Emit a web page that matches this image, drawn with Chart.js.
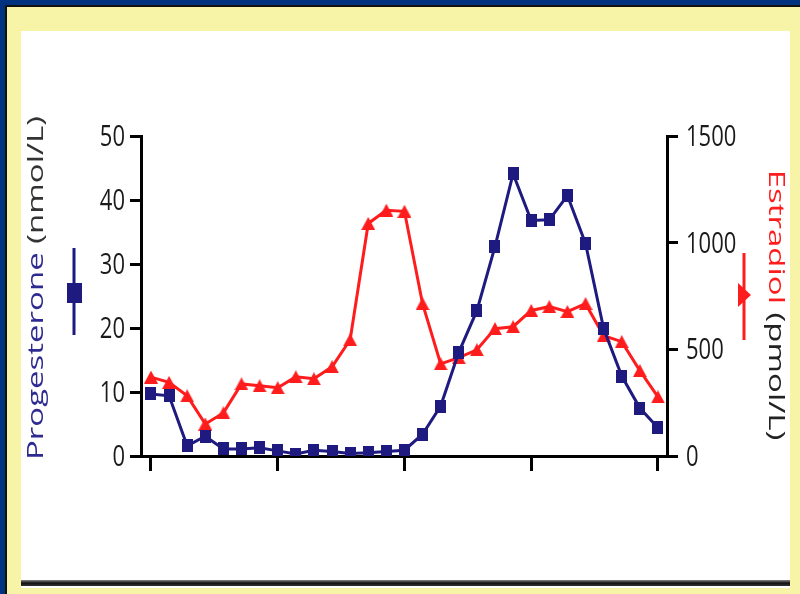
<!DOCTYPE html>
<html>
<head>
<meta charset="utf-8">
<script src="https://cdn.jsdelivr.net/npm/chart.js@4.4.1/dist/chart.umd.min.js"></script>
<style>
    body { margin: 0; width: 800px; height: 594px; overflow: hidden; background: #00327f; position: relative; }
    #moldura { position: absolute; left: 5px; top: 5px; right: 0; bottom: 0; border-left: 2px solid #111; border-top: 2px solid #111; background: #f7f4a8; }
    #painel { position: absolute; left: 21px; top: 31px; width: 769px; height: 557px; background: #fff; }
    #regua { position: absolute; left: 21px; top: 580px; width: 769px; height: 6px; background: linear-gradient(#888, #111, #333); }
    canvas { position: absolute; left: 0; top: 0; }
</style>
</head>
<body>
<div id="moldura"></div>
<div id="painel"></div>
<div id="regua"></div>
<canvas id="myChartCanvas1" width="800" height="594"></canvas>
<script>
// dias do ciclo
const dias = [0, 1, 2, 3, 4, 5, 6, 7, 8, 9, 10, 11, 12, 13, 14, 15, 16, 17, 18, 19, 20, 21, 22, 23, 24, 25, 26, 27, 28];
// progesterona (nmol/L)
const progesterona = [9.7, 9.4, 1.6, 3.1, 1.1, 1.1, 1.3, 0.8, 0.3, 0.9, 0.7, 0.4, 0.5, 0.7, 0.9, 3.4, 7.8, 16.2, 22.7, 32.7, 44.1, 36.8, 36.9, 40.7, 33.2, 19.9, 12.5, 7.5, 4.4];
// estradiol (pmol/L)
const estradiol = [370, 345, 282, 150, 202, 338, 329, 320, 371, 362, 418, 545, 1090, 1152, 1147, 714, 432, 461, 498, 597, 606, 682, 700, 677, 714, 564, 536, 400, 277];
const ticksX = [0, 7, 14, 21, 28];

const AZUL = '#1f1a80';
const VERMELHO = '#ff1c1c';

// marcadores um pouco esticados na vertical, como na figura
function marcadorQuadrado(cor) {
    const c = document.createElement('canvas');
    c.width = 11; c.height = 13;
    const g = c.getContext('2d');
    g.fillStyle = cor;
    g.fillRect(0, 0, 11, 13);
    return c;
}

function marcadorTriangulo(cor) {
    const c = document.createElement('canvas');
    c.width = 14; c.height = 13;
    const g = c.getContext('2d');
    g.fillStyle = cor;
    g.beginPath();
    g.moveTo(7, 0);
    g.lineTo(14, 13);
    g.lineTo(0, 13);
    g.closePath();
    g.fill();
    return c;
}

// texto esticado, a figura original foi escalada de forma desigual
function textoEsticado(ctx, partes, x, y, rot, esticar) {
    ctx.save();
    ctx.translate(x, y);
    ctx.rotate(rot);
    ctx.scale(esticar, 1);
    ctx.font = '22px "Open Sans"';
    ctx.textBaseline = 'alphabetic';
    ctx.textAlign = 'left';
    let total = 0;
    partes.forEach(p => total += ctx.measureText(p.texto).width);
    let px = -total / 2;
    partes.forEach(p => {
        ctx.fillStyle = p.cor;
        ctx.fillText(p.texto, px, 0);
        px += ctx.measureText(p.texto).width;
    });
    ctx.restore();
}

const rotulosEixos = {
    id: 'rotulosEixos',
    afterDraw(chart) {
        const ctx = chart.ctx;
        const esq = chart.scales.y;
        const dir = chart.scales.y1;

        ctx.save();
        ctx.font = '22px "Open Sans"';
        ctx.fillStyle = '#1a1a1a';
        ctx.textBaseline = 'alphabetic';
        esq.ticks.forEach(t => {
            const y = esq.getPixelForValue(t.value);
            ctx.save();
            ctx.translate(esq.right - 16, y + 10);
            ctx.scale(1, 1.3);
            ctx.textAlign = 'right';
            ctx.fillText(String(t.value), 0, 0);
            ctx.restore();
        });
        dir.ticks.forEach(t => {
            const y = dir.getPixelForValue(t.value);
            ctx.save();
            ctx.translate(dir.left + 19, y + 10);
            ctx.scale(1, 1.3);
            ctx.textAlign = 'left';
            ctx.fillText(String(t.value), 0, 0);
            ctx.restore();
        });
        ctx.restore();

        textoEsticado(ctx, [
            { texto: 'Progesterone ', cor: '#2e2b90' },
            { texto: '(nmol/L)', cor: '#333' }
        ], 43, 288, -Math.PI / 2, 1.5);

        textoEsticado(ctx, [
            { texto: 'Estradiol ', cor: VERMELHO },
            { texto: '(pmol/L)', cor: '#222' }
        ], 769, 305, Math.PI / 2, 1.5);

        // simbolos da legenda junto aos titulos
        ctx.save();
        ctx.lineWidth = 3;
        ctx.strokeStyle = AZUL;
        ctx.beginPath();
        ctx.moveTo(74, 248);
        ctx.lineTo(74, 335);
        ctx.stroke();
        ctx.fillStyle = AZUL;
        ctx.fillRect(67, 283, 15, 20);

        ctx.strokeStyle = VERMELHO;
        ctx.beginPath();
        ctx.moveTo(744, 253);
        ctx.lineTo(744, 340);
        ctx.stroke();
        ctx.fillStyle = VERMELHO;
        ctx.beginPath();
        ctx.moveTo(738, 283);
        ctx.lineTo(751, 295);
        ctx.lineTo(738, 307);
        ctx.closePath();
        ctx.fill();
        ctx.restore();
    }
};

const eixoPreto = {
    drawOnChartArea: false,
    drawTicks: true,
    color: '#000',
    lineWidth: 3
};

const config = {
    type: 'line',
    data: {
        datasets: [{
            label: 'Progesterone',
            data: dias.map((d, i) => ({ x: d, y: progesterona[i] })),
            yAxisID: 'y',
            borderColor: AZUL,
            backgroundColor: AZUL,
            borderWidth: 3,
            pointStyle: marcadorQuadrado(AZUL),
            tension: 0
        }, {
            label: 'Estradiol',
            data: dias.map((d, i) => ({ x: d, y: estradiol[i] })),
            yAxisID: 'y1',
            borderColor: VERMELHO,
            backgroundColor: VERMELHO,
            borderWidth: 3,
            pointStyle: marcadorTriangulo(VERMELHO),
            tension: 0
        }]
    },
    options: {
        responsive: false,
        animation: false,
        devicePixelRatio: 1,
        layout: { padding: { top: 136, left: 0, right: 0, bottom: 0 } },
        plugins: {
            legend: { display: false },
            tooltip: { enabled: false }
        },
        scales: {
            x: {
                type: 'linear',
                min: -0.55,
                max: 28.5,
                afterBuildTicks: s => { s.ticks = ticksX.map(v => ({ value: v })); },
                afterFit: s => { s.height = 138; },
                ticks: { display: false },
                grid: Object.assign({}, eixoPreto, { tickLength: 15 }),
                border: { color: '#000', width: 3 }
            },
            y: {
                position: 'left',
                min: 0,
                max: 50,
                afterFit: s => { s.width = 141; },
                ticks: { display: false, stepSize: 10 },
                grid: Object.assign({}, eixoPreto, { tickLength: 11 }),
                border: { color: '#000', width: 3 }
            },
            y1: {
                position: 'right',
                min: 0,
                max: 1500,
                afterFit: s => { s.width = 133; },
                ticks: { display: false, stepSize: 500 },
                grid: Object.assign({}, eixoPreto, { tickLength: 11 }),
                border: { color: '#000', width: 3 }
            }
        }
    },
    plugins: [rotulosEixos]
};

new Chart(
    document.getElementById('myChartCanvas1'),
    config
);
</script>
</body>
</html>
